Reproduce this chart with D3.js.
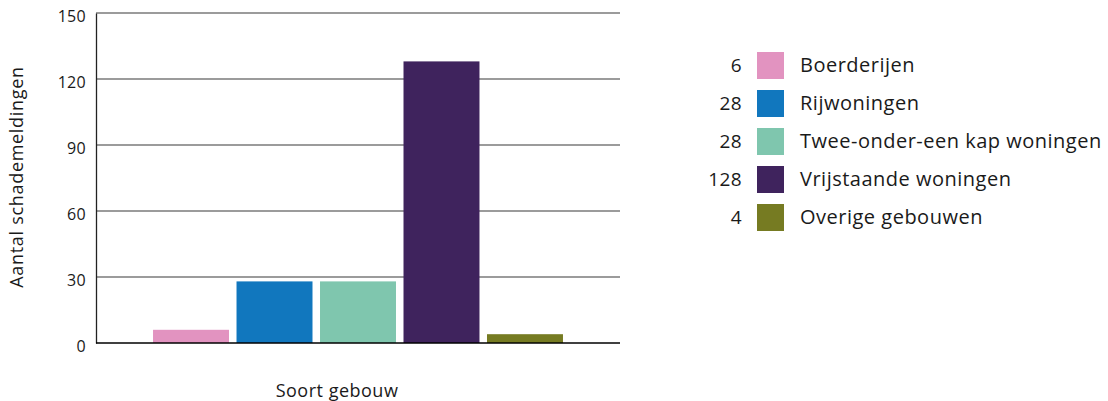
<!DOCTYPE html>
<html><head><meta charset="utf-8">
<script src="https://cdn.jsdelivr.net/npm/d3@7"></script>
<style>body{margin:0;background:#fff}svg{display:block}text{font-family:"Open Sans",sans-serif;fill:#1a1a1a}</style>
</head><body>
<svg id="c" width="1108" height="401"></svg>
<script>
const categories = ["Boerderijen","Rijwoningen","Twee-onder-een kap woningen","Vrijstaande woningen","Overige gebouwen"];
const values = [6,28,28,128,4];
const colors = ["#E293C0","#1177BE","#7FC6AE","#3F235D","#767B22"];
const yTicks = [0,30,60,90,120,150];
const yTitle = "Aantal schademeldingen";
const xTitle = "Soort gebouw";

const svg = d3.select("#c");
const L = 96, R = 620, T = 13, B = 343;
const y = d3.scaleLinear().domain([0,150]).range([B,T]);
const x = d3.scaleBand().domain(categories).range([L,R]).paddingInner(0.09).paddingOuter(0.683);

// gridlines
svg.append("g").selectAll("line").data(yTicks.filter(d=>d>0)).join("line")
  .attr("x1",L).attr("x2",R).attr("y1",d=>y(d)).attr("y2",d=>y(d))
  .attr("stroke","#7a7a7a").attr("stroke-width",1.4);

// bars
svg.append("g").selectAll("rect").data(categories).join("rect")
  .attr("x",d=>x(d)).attr("width",x.bandwidth())
  .attr("y",(d,i)=>y(values[i])).attr("height",(d,i)=>B-y(values[i]))
  .attr("fill",(d,i)=>colors[i]);

// axes
const ya = svg.append("g").attr("transform",`translate(${L},0)`)
  .call(d3.axisLeft(y).tickValues(yTicks).tickSize(0).tickPadding(10));
ya.select(".domain").attr("stroke","#222").attr("stroke-width",1.3);
ya.selectAll("text").attr("font-size",16).attr("font-family","'Open Sans',sans-serif").attr("fill","#1a1a1a").attr("dy","0.5em").attr("letter-spacing","0.3");

svg.append("line").attr("x1",L).attr("x2",R).attr("y1",B).attr("y2",B).attr("stroke","#000").attr("stroke-width",1.6);

svg.append("text").attr("transform","translate(23,177) rotate(-90)").attr("text-anchor","middle")
  .attr("font-size",18).attr("letter-spacing","0.7").text(yTitle);
svg.append("text").attr("x",337).attr("y",397).attr("text-anchor","middle").attr("font-size",18).attr("letter-spacing","0.5").text(xTitle);

// legend
const lg = svg.append("g").selectAll("g").data(categories).join("g")
  .attr("transform",(d,i)=>`translate(0,${52+i*38})`);
lg.append("text").attr("x",742).attr("y",20).attr("text-anchor","end").attr("font-size",19).attr("letter-spacing","0.4").text((d,i)=>values[i]);
lg.append("rect").attr("x",757).attr("y",0).attr("width",27).attr("height",27).attr("fill",(d,i)=>colors[i]);
lg.append("text").attr("x",800).attr("y",20).attr("font-size",20).attr("letter-spacing","0.5").text(d=>d);
</script>
</body></html>
